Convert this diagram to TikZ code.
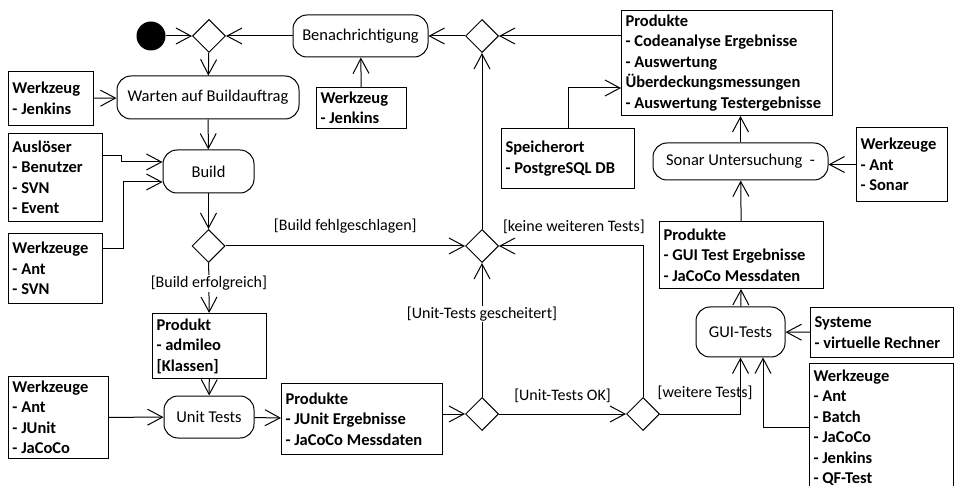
\documentclass[tikz,border=0pt]{standalone}
\usepackage{fontspec}
\setmainfont{Carlito}
\usetikzlibrary{arrows.meta,shapes.geometric}
\newcommand{\dfont}{\fontsize{16.5}{20.5}\selectfont}
\newcommand{\gfont}{\fontsize{16}{20}\selectfont}

\begin{document}
\begin{tikzpicture}[x=1pt, y=-1pt, line width=1pt,
    act/.style={draw, rounded corners=14pt, inner sep=2pt, font=\dfont},
    obj/.style={draw, anchor=north west, align=flush left, inner xsep=4pt,
      inner ysep=2pt, font=\dfont\bfseries},
    dia/.style={draw, diamond, aspect=1, minimum size=33pt, inner sep=0pt},
    guard/.style={inner sep=1pt, font=\gfont},
    flow/.style={-{Straight Barb[length=15pt,width=16pt]}}]
    \useasboundingbox (0,0) rectangle (956,486);
    \clip (0,0) rectangle (956,486);

    % Start, decisions and merges.
    \node[circle, fill=black, minimum size=29pt, inner sep=0pt] (start) at (151,36) {};
    \node[dia] (d1) at (209,36) {};
    \node[dia] (d2) at (208.5,246) {};
    \node[dia] (d3) at (482,246) {};
    \node[dia] (dtop) at (482,36) {};
    \node[dia] (d4) at (482,414) {};
    \node[dia] (d5) at (643,414) {};

    % Activities.
    \node[act, minimum width=182pt, minimum height=43pt] (warten) at (208,97.5) {Warten auf Buildauftrag};
    \node[act, minimum width=91pt, minimum height=43pt] (build) at (208.5,171.5) {Build};
    \node[act, minimum width=90pt, minimum height=42pt] (unit) at (209,417) {Unit Tests};
    \node[act, minimum width=135pt, minimum height=42pt] (benach) at (360.5,36) {Benachrichtigung};
    \node[act, minimum width=175pt, minimum height=37pt] (sonar) at (740.5,161.5) {Sonar Untersuchung~~-};
    \node[act, minimum width=89pt, minimum height=50pt] (gui) at (740.5,332) {GUI-Tests};

    % Objects (tools, products, triggers).
    \node[obj, text width=77pt, minimum height=54pt] (toolwarten) at (8,71) {Werkzeug\\- Jenkins};
    \node[obj, text width=86pt, minimum height=88pt] (trigger) at (8,133) {Auslöser\\- Benutzer\\- SVN\\- Event};
    \node[obj, text width=86pt, minimum height=70pt] (toolbuild) at (8,233) {Werkzeuge\\- Ant\\- SVN};
    \node[obj, text width=106pt, minimum height=65pt] (product) at (152,313) {Produkt\\- admileo\\{[Klassen]}};
    \node[obj, text width=92pt, minimum height=82pt] (toolunit) at (8,376) {Werkzeuge\\- Ant\\- JUnit\\- JaCoCo};
    \node[obj, text width=153pt, minimum height=71pt] (produnit) at (281,383) {Produkte\\- JUnit Ergebnisse\\- JaCoCo Messdaten};
    \node[obj, text width=82pt, minimum height=41pt] (toolbenach) at (316,87) {Werkzeug\\- Jenkins};
    \node[obj, text width=125pt, minimum height=60pt] (store) at (501,128) {Speicherort\\- PostgreSQL DB};
    \node[obj, text width=203pt, minimum height=105pt] (prodsonar) at (621,10)
      {Produkte\\- Codeanalyse Ergebnisse\\- Auswertung\\Überdeckungsmessungen\\- Auswertung Testergebnisse};
    \node[obj, text width=83pt, minimum height=74pt] (toolsonar) at (856,127) {Werkzeuge\\- Ant\\- Sonar};
    \node[obj, text width=156pt, minimum height=67pt] (prodgui) at (659,221) {Produkte\\- GUI Test Ergebnisse\\- JaCoCo Messdaten};
    \node[obj, text width=135pt, minimum height=50pt] (sysgui) at (810,307) {Systeme\\- virtuelle Rechner};
    \node[obj, text width=136pt, minimum height=128pt] (toolgui) at (809,363)
      {Werkzeuge\\- Ant\\- Batch\\- JaCoCo\\- Jenkins\\- QF-Test};

    % Control flow.
    \draw[flow] (start) -- (d1);
    \draw[flow] (d1) -- (warten);
    \draw[flow] (warten) -- (build);
    \draw[flow] (build) -- (d2);
    \draw[flow] (d2) -- node[guard, fill=white, pos=.41] (gok) {[Build erfolgreich]} (product);
    \draw[flow] (d2) -- node[guard, above=11pt, pos=.5] (gfail) {[Build fehlgeschlagen]} (d3);
    \draw[flow] (product) -- (unit);
    \draw[flow] (unit) -- (produnit);
    \draw[flow] (produnit.east |- d4) -- (d4);
    \draw[flow] (d4) -- node[guard, fill=white, pos=.62] (gfailed) {[Unit-Tests gescheitert]} (d3);
    \draw[flow] (d4) -- node[guard, above=10pt] (gpass) {[Unit-Tests OK]} (d5);
    \draw[flow] (d5) |- node[guard, above=11pt, pos=.74] (gnomore) {[keine weiteren Tests]} (d3);
    \draw[flow] (d5) -| node[guard, above=13pt, pos=.28] (gmore) {[weitere Tests]} (gui);
    \draw[flow] (d3) -- (dtop);
    \draw[flow] (gui) -- (prodgui);
    \draw[flow] (prodgui) -- (sonar);
    \draw[flow] (sonar.north) -- (sonar.north |- prodsonar.south);
    \draw[flow] (prodsonar.west |- dtop) -- (dtop);
    \draw[flow] (dtop) -- (benach);
    \draw[flow] (benach) -- (d1);

    % Object flow into the activities.
    \draw[flow] (toolwarten) -- (warten);
    \draw[flow] ([yshift=-23pt]trigger.north east) -- ++(18,0) |- ([yshift=9.5pt]build.west);
    \draw[flow] ([yshift=-16pt]toolbuild.north east) -- ++(20,0) |- ([yshift=-10.5pt]build.west);
    \draw[flow] (toolunit) -- (unit);
    \draw[flow] (toolbenach) -- (benach);
    \draw[flow] (store.north) |- ([yshift=-78pt]prodsonar.north west);
    \draw[flow] (toolsonar) -- (toolsonar -| sonar.east);
    \draw[flow] (sysgui) -- (gui);
    \draw[flow] (toolgui.west) -| ([xshift=22.5pt]gui.south);
\end{tikzpicture}
\end{document}
